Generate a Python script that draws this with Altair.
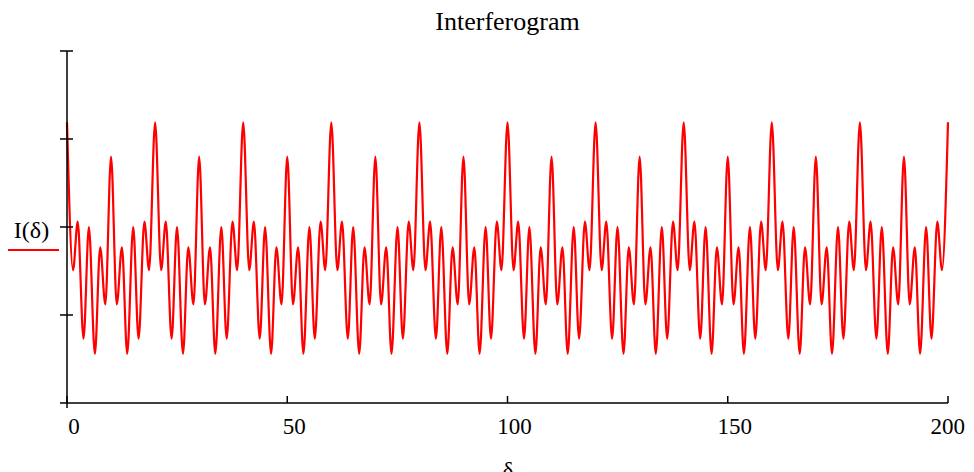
import altair as alt
import pandas as pd

# Extrema of one period of the interferogram
# (the picture repeats the same pattern every 20 units of delta)
period_delta = [0.0, 1.37, 2.43, 3.75, 4.97, 6.33, 7.53, 8.70,
                10.0, 11.30, 12.47, 13.67, 15.03, 16.25, 17.57, 18.63]
period_I = [1.19, -0.49, 0.06, -1.27, 0.00, -1.44, -0.23, -0.88,
            0.80, -0.88, -0.23, -1.44, 0.00, -1.27, 0.06, -0.49]
period_length = 20
n_periods = 10
end_delta = 200
end_I = 1.19

x_ticks = [0, 50, 100, 150, 200]
x_tick_labels = ["0", "50", "100", "150", "200"]
y_ticks = [-1, 0, 1, 2]
chart_title = "Interferogram"

rows = []
for k in range(n_periods):
    for d, v in zip(period_delta, period_I):
        rows.append({"delta": k * period_length + d, "I": v})
rows.append({"delta": end_delta, "I": end_I})
df = pd.DataFrame(rows)

W, H = 881, 352
FONT = "Liberation Serif"
RED = "#ff0000"

xscale = alt.Scale(domain=[0, 200], nice=False, zero=False)
yscale = alt.Scale(domain=[-2, 2], nice=False, zero=False)

xaxis = alt.Axis(values=x_ticks, ticks=False, domain=False, grid=False, labels=False,
                 title="δ", titleFont=FONT, titleFontSize=23, titleFontWeight="normal",
                 titleColor="black", titleBaseline="alphabetic", titleY=74)
yaxis = alt.Axis(values=y_ticks, labels=False, ticks=False, domain=False, grid=False,
                 title="I(δ)", titleAngle=0, titleAlign="center",
                 titleBaseline="alphabetic", titleX=-36, titleY=186,
                 titleFont=FONT, titleFontSize=24, titleFontWeight="normal",
                 titleColor="black")

line = alt.Chart(df).mark_line(color=RED, strokeWidth=2.2, interpolate="monotone").encode(
    x=alt.X("delta:Q", scale=xscale, axis=xaxis),
    y=alt.Y("I:Q", scale=yscale, axis=yaxis),
)

xlab_df = pd.DataFrame({"delta": x_ticks, "lab": x_tick_labels})
xlabels_inner = alt.Chart(xlab_df).transform_filter(alt.datum.delta < 200).mark_text(
    font=FONT, fontSize=23, color="black", align="center", baseline="alphabetic", dx=7
).encode(
    x=alt.X("delta:Q", scale=xscale, axis=xaxis),
    y=alt.value(H + 31),
    text="lab:N",
)
xlabels_last = alt.Chart(xlab_df).transform_filter(alt.datum.delta >= 200).mark_text(
    font=FONT, fontSize=23, color="black", align="right", baseline="alphabetic", dx=17
).encode(
    x=alt.X("delta:Q", scale=xscale, axis=xaxis),
    y=alt.value(H + 31),
    text="lab:N",
)

ytick_df = pd.DataFrame({"I": y_ticks})
ytick_rules = alt.Chart(ytick_df).mark_rule(color="black", strokeWidth=1.5).encode(
    y=alt.Y("I:Q", scale=yscale, axis=yaxis),
    x=alt.value(-7), x2=alt.value(6),
)

xtick_df = pd.DataFrame({"delta": x_ticks})
xtick_rules = alt.Chart(xtick_df).mark_rule(color="black", strokeWidth=1.5).encode(
    x=alt.X("delta:Q", scale=xscale, axis=xaxis),
    y=alt.value(H - 7), y2=alt.value(H),
)

one = pd.DataFrame({"k": [0]})
x_axis_line = alt.Chart(one).mark_rule(color="black", strokeWidth=1.5).encode(
    x=alt.value(-7), x2=alt.value(W), y=alt.value(H),
)
y_axis_line = alt.Chart(one).mark_rule(color="black", strokeWidth=1.5).encode(
    x=alt.value(0), y=alt.value(0), y2=alt.value(H + 5),
)
legend_line = alt.Chart(one).mark_rule(color=RED, strokeWidth=2).encode(
    x=alt.value(-59), x2=alt.value(-8), y=alt.value(199),
)
title_text = alt.Chart(pd.DataFrame({"t": [chart_title]})).mark_text(
    font=FONT, fontSize=26, color="black", align="center", baseline="alphabetic"
).encode(
    x=alt.value(W / 2), y=alt.value(-21), text="t:N",
)

chart = alt.layer(
    line, xlabels_inner, xlabels_last, ytick_rules, xtick_rules,
    x_axis_line, y_axis_line, legend_line, title_text
).properties(
    width=W, height=H,
    background="white",
    autosize=alt.AutoSizeParams(type="none"),
    padding={"left": 59, "top": 43, "right": 18, "bottom": 77},
).configure_view(stroke=None)

chart.save("out.html", embed_options={"renderer": "svg", "actions": False})
